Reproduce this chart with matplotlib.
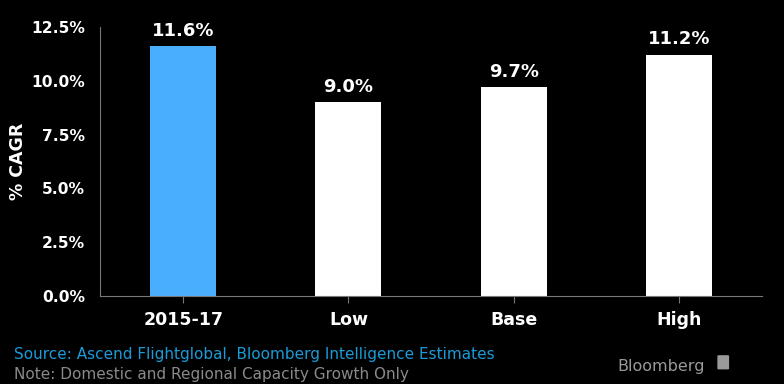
import matplotlib.pyplot as plt
from matplotlib.patches import FancyBboxPatch

categories = ["2015-17", "Low", "Base", "High"]
values = [11.6, 9.0, 9.7, 11.2]
bar_colors = ["#4aaefe", "#ffffff", "#ffffff", "#ffffff"]
yticks = [0.0, 2.5, 5.0, 7.5, 10.0, 12.5]

fig = plt.figure(figsize=(7.84, 3.84), dpi=100, facecolor="black")
ax = fig.add_axes([0.1276, 0.229, 0.8444, 0.701], facecolor="black")

x = range(len(categories))
ax.bar(x, values, width=0.4, color=bar_colors)
for i, v in enumerate(values):
    ax.text(i, v + 0.3, f"{v:.1f}%", ha="center", va="bottom",
            color="white", fontsize=13, fontweight="bold")

ax.set_xlim(-0.503, 3.503)
ax.set_ylim(0, 12.5)
ax.set_xticks(list(x))
ax.set_xticklabels(categories, fontsize=12.5, fontweight="bold", color="white")
ax.set_yticks(yticks)
ax.set_yticklabels([f"{t:.1f}%" for t in yticks], fontsize=11.2,
                   fontweight="bold", color="white")
ax.tick_params(axis="x", colors="#777777", labelcolor="white", length=5, pad=6)
ax.tick_params(axis="y", length=0, pad=11)

# y label placed on the figure so it sits where the reference has it
fig.text(0.023, 0.58, "% CAGR", color="white", fontsize=12.5, fontweight="bold",
         rotation=90, ha="center", va="center")

for s in ["top", "right"]:
    ax.spines[s].set_visible(False)
for s in ["left", "bottom"]:
    ax.spines[s].set_color("#777777")

fig.text(0.018, 0.066, "Source: Ascend Flightglobal, Bloomberg Intelligence Estimates",
         color="#1a9bd7", fontsize=11)
fig.text(0.018, 0.012, "Note: Domestic and Regional Capacity Growth Only",
         color="#8a8a8a", fontsize=11)
fig.text(0.787, 0.035, "Bloomberg", color="#9a9a9a", fontsize=11.5)
fig.patches.append(FancyBboxPatch((0.917, 0.04), 0.011, 0.033,
                                  boxstyle="round,pad=0.002", transform=fig.transFigure,
                                  facecolor="#9a9a9a", edgecolor="none"))

fig.savefig("out.png", dpi=100, facecolor="black")
